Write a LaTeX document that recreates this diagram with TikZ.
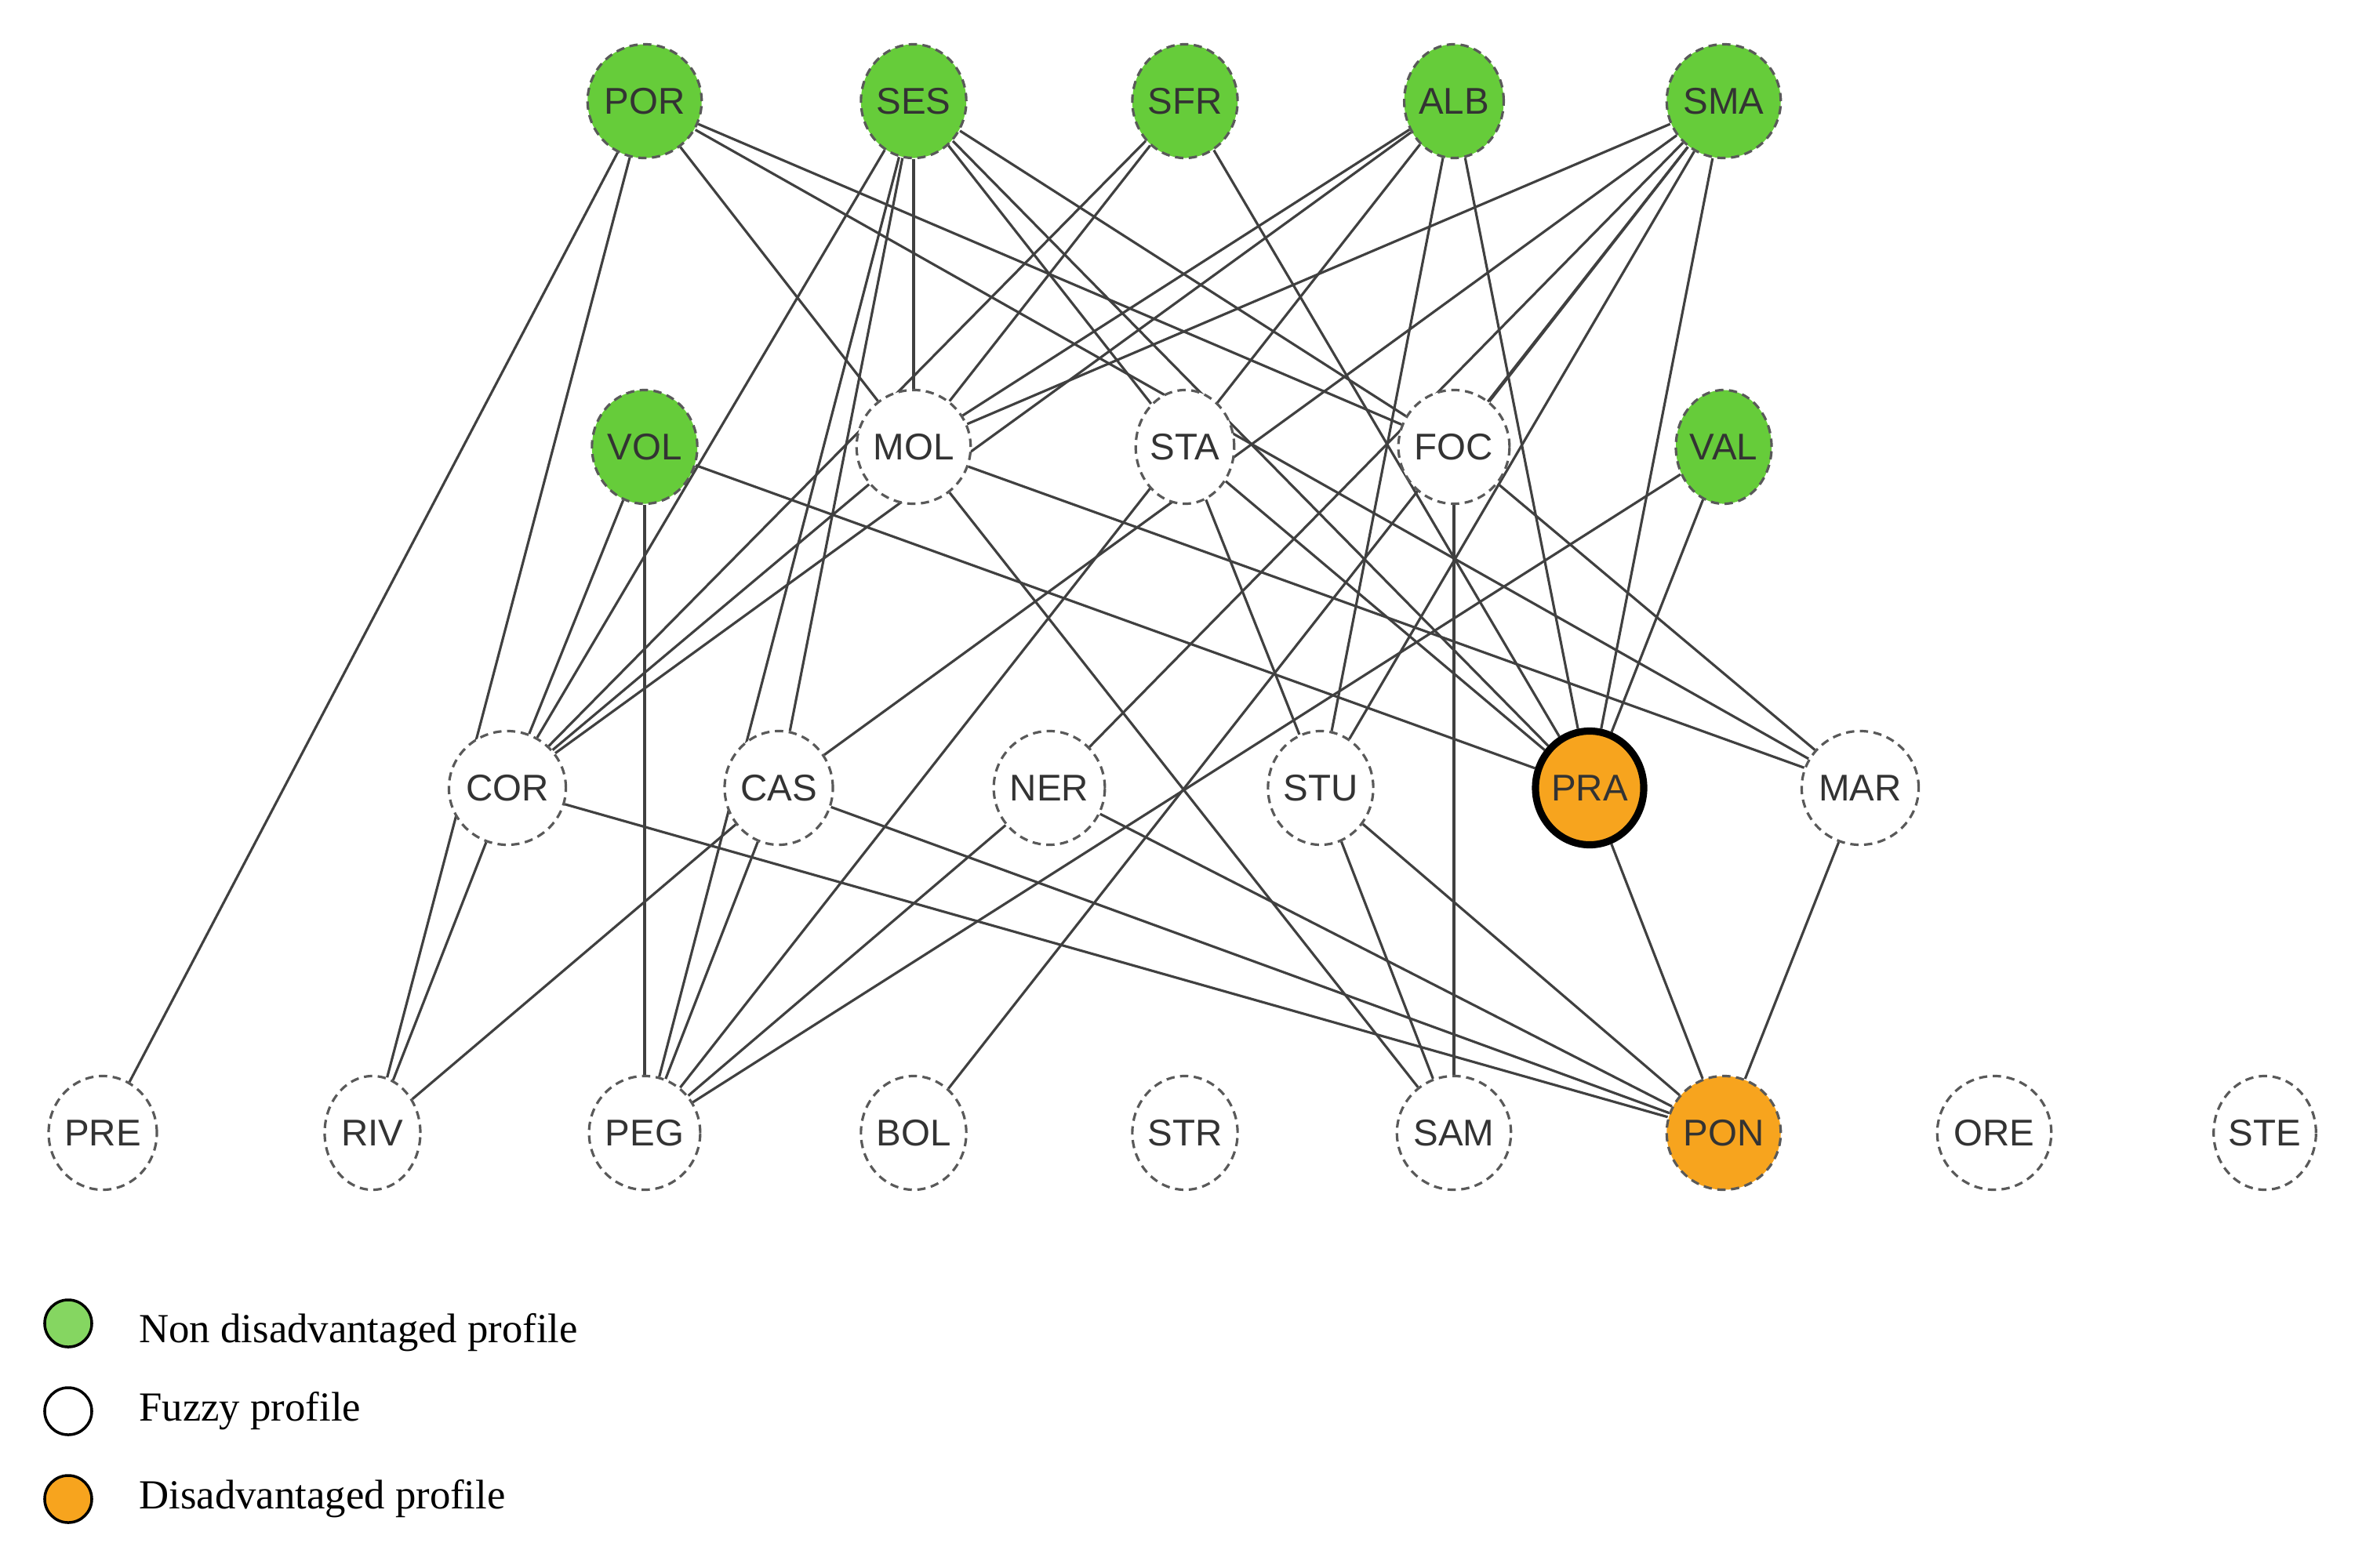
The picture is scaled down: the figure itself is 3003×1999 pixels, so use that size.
\documentclass[tikz,border=0pt]{standalone}
\usepackage{fontspec}
\setmainfont{Liberation Serif}
\newfontfamily\lab{Liberation Sans}
\usetikzlibrary{shapes.geometric}
\pgfdeclarelayer{bg}
\pgfsetlayers{bg,main}
\begin{document}
\definecolor{ngreen}{HTML}{66CC3A}
\definecolor{norange}{HTML}{F7A41E}
\begin{tikzpicture}[x=0.01cm,y=-0.01cm,
  nd/.style={ellipse,draw=gray!70!black,densely dashed,line width=0.9pt,minimum width=1.22cm,minimum height=1.45cm,inner sep=0pt,font=\lab\fontsize{13.5}{13.5}\selectfont,text=black!80},
  g/.style={nd,fill=ngreen},
  w/.style={nd,fill=white},
  o/.style={nd,fill=norange},
  ed/.style={draw=black!75,line width=0.9pt},
  lg/.style={circle,draw=black,line width=1pt,minimum size=0.6cm,inner sep=0pt},
  lt/.style={anchor=west,font=\fontsize{15}{15}\selectfont}]
\useasboundingbox (0,0) rectangle (3003,1999);
% nodes
\node[g] (POR) at (822,129) {POR};
\node[g] (SES) at (1165,129) {SES};
\node[g] (SFR) at (1511,129) {SFR};
\node[g] (ALB) at (1854,129) {ALB};
\node[g] (SMA) at (2198,129) {SMA};
\node[g] (VOL) at (822,570) {VOL};
\node[w] (MOL) at (1165,570) {MOL};
\node[w] (STA) at (1511,570) {STA};
\node[w] (FOC) at (1854,570) {FOC};
\node[g] (VAL) at (2198,570) {VAL};
\node[w] (COR) at (647,1005) {COR};
\node[w] (CAS) at (993,1005) {CAS};
\node[w] (NER) at (1338,1005) {NER};
\node[w] (STU) at (1684,1005) {STU};
\node[o,draw=black,solid,line width=2.6pt] (PRA) at (2027,1005) {PRA};
\node[w] (MAR) at (2372,1005) {MAR};
\node[w] (PRE) at (131,1445) {PRE};
\node[w] (RIV) at (475,1445) {RIV};
\node[w] (PEG) at (822,1445) {PEG};
\node[w] (BOL) at (1165,1445) {BOL};
\node[w] (STR) at (1511,1445) {STR};
\node[w] (SAM) at (1854,1445) {SAM};
\node[o] (PON) at (2198,1445) {PON};
\node[w] (ORE) at (2543,1445) {ORE};
\node[w] (STE) at (2888,1445) {STE};
% edges
\begin{pgfonlayer}{bg}
\foreach \a/\b in {POR/PRE,POR/RIV,POR/MOL,POR/FOC,POR/MAR,
  SES/MOL,SES/COR,SES/PEG,SES/CAS,SES/STA,SES/FOC,SES/PRA,
  SFR/MOL,SFR/COR,SFR/PRA,
  ALB/MOL,ALB/COR,ALB/PEG,ALB/STU,ALB/PRA,
  SMA/MOL,SMA/CAS,SMA/NER,SMA/STU,SMA/FOC,SMA/PRA,SMA/BOL,
  VOL/COR,VOL/PEG,VOL/PRA,
  MOL/COR,MOL/MAR,MOL/SAM,
  STA/STU,STA/PRA,
  FOC/SAM,FOC/MAR,
  VAL/PRA,VAL/PEG,
  COR/RIV,COR/PON,
  CAS/PEG,CAS/RIV,CAS/PON,
  NER/PEG,NER/PON,
  STU/SAM,STU/PON,
  PRA/PON,MAR/PON}
  \draw[ed] (\a) -- (\b);
\end{pgfonlayer}
% legend
\node[lg,fill=ngreen!80!white] (L1) at (87,1688) {};
\node[lg,fill=white] (L2) at (87,1800) {};
\node[lg,fill=norange] (L3) at (87,1912) {};
\node[lt] (T1) at (165,1700) {Non disadvantaged profile};
\node[lt] (T2) at (165,1800) {Fuzzy profile};
\node[lt] (T3) at (165,1912) {Disadvantaged profile};
\end{tikzpicture}
\end{document}
